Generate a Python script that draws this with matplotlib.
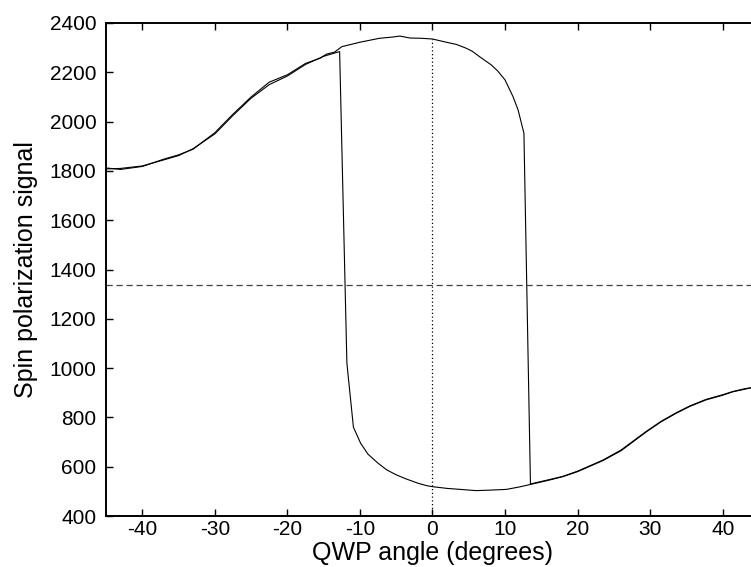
import numpy as np
import matplotlib
matplotlib.use("Agg")
import matplotlib.pyplot as plt

# -------------------------------------------------------------------------
# Datos (lazo de histéresis)
# -------------------------------------------------------------------------

# barrido ascendente (salta abajo cerca de -12.5 grados)
ang_sube = [-45, -43, -40, -37, -35, -33, -30, -27.5, -25, -22.5, -20, -17.5,
            -15, -13.5, -12.8, -11.8, -10.9, -9.9, -8.9, -7.5, -6.3, -5, -3.6,
            -2, -0.8, 0, 2, 3.8, 6, 8, 10.2, 12, 13.5, 16, 18, 20, 23.5, 26,
            29.5, 31.5, 33.6, 35.5, 37.7, 40, 41.4, 43, 45]
senal_sube = [1808, 1810, 1820, 1845, 1862, 1890, 1950, 2025, 2095, 2150, 2185,
              2232, 2265, 2278, 2284, 1020, 760, 695, 651, 614, 587, 567, 550,
              533, 523, 519, 512, 508, 503, 505, 508, 518, 528, 545, 560, 580,
              625, 665, 742, 782, 817, 845, 871, 890, 904, 914, 928]

# barrido descendente (salta arriba cerca de +13 grados)
ang_baja = [-45, -43, -40, -37, -35, -33, -30, -27.5, -25, -22.5, -20, -17.5,
            -15.5, -14.6, -13.5, -12.5, -10, -7.3, -5.5, -4.5, -3.1, -1.5, 0,
            1.9, 3.3, 4.7, 5.5, 6.5, 8.1, 9, 10, 11.1, 11.8, 12.6, 13.5, 16,
            18, 20, 23.5, 26, 29.5, 31.5, 33.6, 35.5, 37.7, 40, 41.4, 43, 45]
senal_baja = [1812, 1806, 1818, 1848, 1865, 1888, 1955, 2030, 2100, 2160, 2190,
              2236, 2257, 2274, 2282, 2304, 2322, 2338, 2343, 2347, 2339, 2338,
              2335, 2322, 2313, 2297, 2285, 2263, 2230, 2205, 2169, 2101, 2047,
              1953, 530, 547, 561, 582, 627, 668, 744, 784, 819, 847, 873, 892,
              905, 916, 926]

# referencias: nivel medio y ángulo cero
nivel_medio = 1337
angulo_cero = 0

# -------------------------------------------------------------------------
# Figura
# -------------------------------------------------------------------------

plt.rcParams["font.family"] = ["Liberation Sans", "DejaVu Sans"]
plt.rcParams["axes.unicode_minus"] = False

fig = plt.figure(figsize=(7.51, 5.67), dpi=100)
ax = fig.add_axes([106 / 751, 51 / 567, 653 / 751, 493 / 567])

ax.plot(ang_sube, senal_sube, color="black", lw=0.8)
ax.plot(ang_baja, senal_baja, color="black", lw=0.8)

ax.axhline(nivel_medio, color="#444444", lw=0.9, ls=(0, (5, 3)))
tope = np.interp(angulo_cero, ang_baja, senal_baja)
ax.vlines(angulo_cero, 400, tope, color="black", lw=0.9, ls=(0, (1, 2)))

ax.set_xlim(-45, 45)
ax.set_ylim(400, 2400)
ax.set_xticks(np.arange(-40, 41, 10))
ax.set_yticks(np.arange(400, 2401, 200))

ax.spines["right"].set_visible(False)
for lado in ["left", "top", "bottom"]:
    ax.spines[lado].set_linewidth(1.4)

ax.tick_params(direction="in", length=5, width=1, labelsize=15,
               top=True, right=False, pad=3)
ax.tick_params(axis="y", pad=7)

ax.set_xlabel("QWP angle (degrees)", fontsize=18, labelpad=1)
ax.set_ylabel("Spin polarization signal", fontsize=18, labelpad=8)

fig.savefig("out.png", dpi=100)
